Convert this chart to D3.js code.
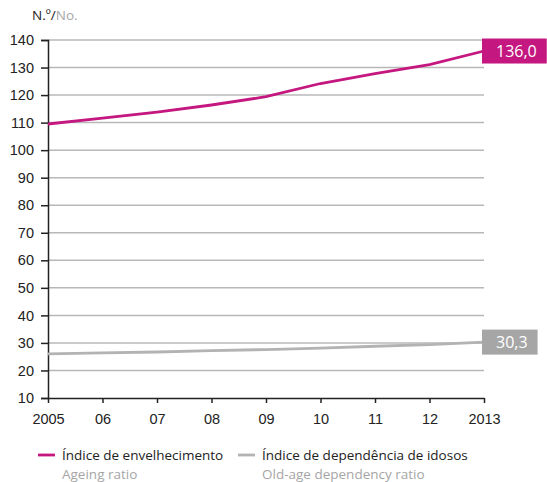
<!DOCTYPE html>
<html>
<head>
<meta charset="utf-8">
<script src="https://cdn.jsdelivr.net/npm/d3@7"></script>
<style>
  body { margin: 0; background: #fff; }
  svg { font-family: "Open Sans", sans-serif; }
</style>
</head>
<body>
<svg id="chart" width="547" height="482"></svg>
<script>
const years = [2005, 2006, 2007, 2008, 2009, 2010, 2011, 2012, 2013];
const yearLabels = ["2005", "06", "07", "08", "09", "10", "11", "12", "2013"];
const ageing = [109.5, 111.6, 113.8, 116.4, 119.4, 124.2, 127.8, 131.1, 136.0];
const dependency = [26.0, 26.4, 26.7, 27.2, 27.6, 28.1, 28.8, 29.4, 30.3];
const yTicks = [10, 20, 30, 40, 50, 60, 70, 80, 90, 100, 110, 120, 130, 140];

const magenta = "#c4177f";
const grey = "#b3b3b3";
const labelGrey = "#a6a6a6";

const svg = d3.select("#chart");
const margin = { top: 40, right: 63, bottom: 84, left: 48 };
const width = 547 - margin.left - margin.right;
const height = 482 - margin.top - margin.bottom;

const x = d3.scaleLinear().domain([2005, 2013]).range([0, width]);
const y = d3.scaleLinear().domain([10, 140]).range([height, 0]);

const g = svg.append("g").attr("transform", `translate(${margin.left},${margin.top})`);

// gridlines
g.append("g")
  .selectAll("line")
  .data(yTicks.filter((d) => d > 10))
  .join("line")
  .attr("x1", 0)
  .attr("x2", width)
  .attr("y1", (d) => y(d))
  .attr("y2", (d) => y(d))
  .attr("stroke", "#b8b8b8")
  .attr("stroke-width", 1.5);

// y axis
const yAxis = d3.axisLeft(y).tickValues(yTicks).tickSize(7).tickPadding(7);
const ya = g.append("g").call(yAxis);
ya.select(".domain").attr("stroke", "#222").attr("stroke-width", 1.5);
ya.selectAll(".tick line").attr("stroke", "#222").attr("stroke-width", 1.5);
ya.selectAll("text").attr("font-size", 14.5).attr("fill", "#222");

// x axis
const xAxis = d3.axisBottom(x).tickValues(years).tickSize(5).tickSizeOuter(0)
  .tickFormat((d, i) => yearLabels[i]).tickPadding(11);
const xa = g.append("g").attr("transform", `translate(0,${height})`).call(xAxis);
xa.select(".domain").attr("stroke", "#222").attr("stroke-width", 1.5);
xa.selectAll(".tick line").attr("stroke", "#222").attr("stroke-width", 1.5);
xa.selectAll("text").attr("font-size", 14.5).attr("fill", "#222");

// lines
const line = (vals) => d3.line().x((d, i) => x(years[i])).y((d) => y(d))(vals);

g.append("path").attr("d", line(dependency)).attr("fill", "none")
  .attr("stroke", grey).attr("stroke-width", 2.8);
g.append("path").attr("d", line(ageing)).attr("fill", "none")
  .attr("stroke", magenta).attr("stroke-width", 2.8);

// end labels
function endLabel(val, color) {
  const cx = x(2013), cy = y(val);
  const rect = g.append("rect").attr("fill", color);
  const txt = g.append("text").attr("x", cx + 12).attr("y", cy + 6)
    .attr("font-size", 16).attr("fill", "#fff").text(val.toFixed(1).replace(".", ","));
  const w = txt.node().getComputedTextLength();
  rect.attr("x", cx - 2).attr("y", cy - 12.5).attr("width", w + 24).attr("height", 25);
}
endLabel(ageing[ageing.length - 1], magenta);
endLabel(dependency[dependency.length - 1], labelGrey);

// unit title
const t = svg.append("text").attr("x", 32).attr("y", 20).attr("font-size", 13.5);
t.append("tspan").attr("fill", "#222").text("N.º/");
t.append("tspan").attr("fill", "#a6a6a6").text("No.");

// legend
const legend = [
  { x: 38, color: magenta, pt: "Índice de envelhecimento", en: "Ageing ratio" },
  { x: 238, color: grey, pt: "Índice de dependência de idosos", en: "Old-age dependency ratio" },
];
const lg = svg.append("g");
legend.forEach((d) => {
  lg.append("line").attr("x1", d.x).attr("x2", d.x + 17).attr("y1", 455).attr("y2", 455)
    .attr("stroke", d.color).attr("stroke-width", 2.8);
  lg.append("text").attr("x", d.x + 24).attr("y", 460).attr("font-size", 13.5)
    .attr("fill", "#222").text(d.pt);
  lg.append("text").attr("x", d.x + 24).attr("y", 479).attr("font-size", 13.5)
    .attr("fill", "#a6a6a6").text(d.en);
});
</script>
</body>
</html>
